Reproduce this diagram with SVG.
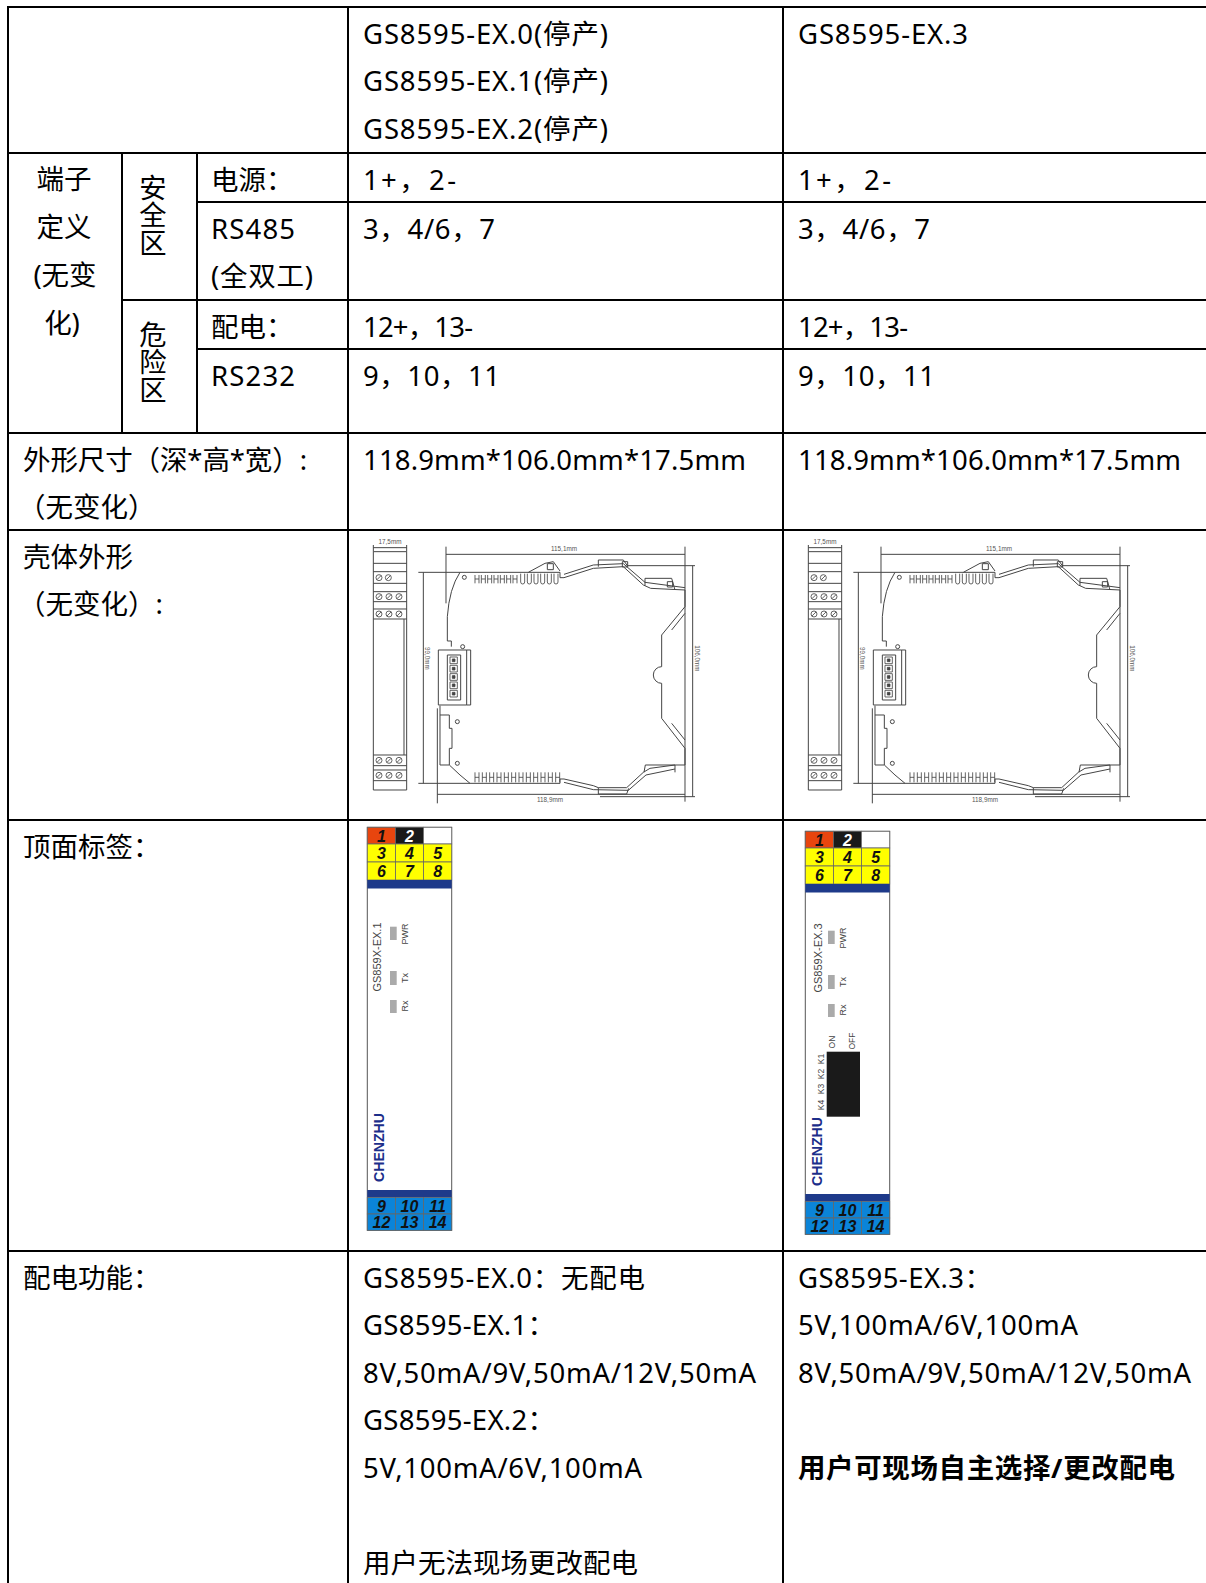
<svg xmlns="http://www.w3.org/2000/svg" xmlns:xlink="http://www.w3.org/1999/xlink" width="1206" height="1583" viewBox="0 0 1206 1583">
<style>
.t{font-family:"Noto Sans","Noto Sans CJK SC",sans-serif;font-size:27.5px;fill:#000}
.v{font-family:"Noto Sans CJK SC",sans-serif;font-size:27.3px;fill:#000;writing-mode:vertical-rl}
.b{font-weight:700}
.m{text-anchor:middle}
.grid{stroke:#000;stroke-width:2;fill:none}
.dim{font-family:"Liberation Sans",Arial,sans-serif;font-size:19px;fill:#555;stroke:none}
.num{font-family:"Liberation Sans",Arial,sans-serif;font-size:16px;font-weight:700;font-style:italic;text-anchor:middle;fill:#111}
.sm{font-family:"Liberation Sans",Arial,sans-serif;fill:#444}
.cell{stroke:#666;stroke-width:0.8}
</style>
<defs>
<g id="housing" fill="none" stroke="#444" stroke-width="3" stroke-linejoin="round">
  <text class="dim" x="90" y="27" text-anchor="middle">17,5mm</text>
  <path d="M40 38H140 M40 30V50 M140 30V50"/>
  <rect x="40" y="50" width="100" height="715"/>
  <path d="M40 85H140 M40 110H140 M40 145H140 M40 170H140 M40 200H140 M40 222H140 M40 252H140 M40 660H140 M40 692H140 M40 705H140 M40 737H140 M132 252V660"/>
  <g stroke-width="2.5">
    <circle cx="57" cy="128" r="9"/><circle cx="85" cy="128" r="9"/>
    <circle cx="57" cy="185" r="9"/><circle cx="87" cy="185" r="9"/><circle cx="117" cy="185" r="9"/>
    <circle cx="57" cy="237" r="9"/><circle cx="87" cy="237" r="9"/><circle cx="117" cy="237" r="9"/>
    <circle cx="57" cy="676" r="9"/><circle cx="87" cy="676" r="9"/><circle cx="117" cy="676" r="9"/>
    <circle cx="57" cy="721" r="9"/><circle cx="87" cy="721" r="9"/><circle cx="117" cy="721" r="9"/>
    <path d="M51 134L63 122 M79 134L91 122 M51 191L63 179 M81 191L93 179 M111 191L123 179 M51 243L63 231 M81 243L93 231 M111 243L123 231 M51 682L63 670 M81 682L93 670 M111 682L123 670 M51 727L63 715 M81 727L93 715 M111 727L123 715"/>
  </g>
  <text class="dim" x="612" y="48" text-anchor="middle">115,1mm</text>
  <path d="M258 58H975 M258 35V205 M975 35V800"/>
  <path d="M190 112V745 M175 112H300 M175 745H330"/>
  <text class="dim" transform="translate(196 370) rotate(90)" text-anchor="middle">99,0mm</text>
  <path d="M998 92V785 M800 92H1005 M720 785H1005"/>
  <text class="dim" transform="translate(1005 370) rotate(90)" text-anchor="middle">106,0mm</text>
  <path d="M232 520V805 M232 778H975"/>
  <text class="dim" x="570" y="802" text-anchor="middle">118,9mm</text>
  <path d="M300 112 Q268 160 262 245 V318 H274 V335"/>
  <path d="M300 112 H600 V128 H612 L700 100 L790 95 L850 150 L872 160 L975 165 V215 L905 300 V395 A25 25 0 0 0 905 445 V550 L975 640 V690 L945 690 L870 700 L850 712 L800 758 L715 758 L700 752 L612 732 H600 V745 H330"/>
  <path d="M612 118 L700 90 L790 86 L855 142 L975 158"/>
  <path d="M975 235 L935 285 M935 565 L975 615"/>
  <path d="M612 742 L700 764 L805 766 L858 720 L945 702"/>
  <path d="M505 112 L555 85 L580 80 L600 108"/>
  <rect x="562" y="86" width="18" height="18"/>
  <path d="M715 95 V75 H790 L802 92"/>
  <rect x="787" y="80" width="16" height="16"/>
  <path d="M855 152 V130 H935 L945 165"/>
  <rect x="922" y="140" width="16" height="16"/>
  <path d="M852 712 L856 690 H945 V712"/>
  <path d="M715 758 V777 H800 L806 760"/>
  <rect x="235" y="345" width="85" height="165"/>
  <path d="M320 345 H332 V510 H320"/>
  <rect x="262" y="360" width="40" height="135"/>
  <g stroke-width="2.5">
    <rect x="270" y="366" width="22" height="20"/><rect x="270" y="391" width="22" height="20"/><rect x="270" y="416" width="22" height="20"/><rect x="270" y="441" width="22" height="20"/><rect x="270" y="466" width="22" height="20"/>
    <rect x="277" y="372" width="8" height="8" fill="#444"/><rect x="277" y="397" width="8" height="8" fill="#444"/><rect x="277" y="422" width="8" height="8" fill="#444"/><rect x="277" y="447" width="8" height="8" fill="#444"/><rect x="277" y="472" width="8" height="8" fill="#444"/>
  </g>
  <path d="M240 512 V690 M240 540 H268 V580 H276 V640 H268 V690 L300 720 L330 745 M240 690 H268"/>
  <circle cx="313" cy="127" r="6"/><circle cx="308" cy="335" r="6"/><circle cx="292" cy="560" r="6"/><circle cx="292" cy="685" r="6"/>
  <path stroke-width="2.5" d="M345 120V145M357 120V145M345 132H357 M364 120V145M376 120V145M364 132H376 M383 120V145M395 120V145M383 132H395 M402 120V145M414 120V145M402 132H414 M421 120V145M433 120V145M421 132H433 M440 120V145M452 120V145M440 132H452 M459 120V145M471 120V145M459 132H471"/>
  <path stroke-width="2.5" d="M482 116V141Q482 147 488 147Q494 147 494 141V116 M502 116V141Q502 147 508 147Q514 147 514 141V116 M522 116V141Q522 147 528 147Q534 147 534 141V116 M542 116V141Q542 147 548 147Q554 147 554 141V116 M562 116V141Q562 147 568 147Q574 147 574 141V116 M582 116V141Q582 147 588 147Q594 147 594 141V116"/>
  <path stroke-width="2.5" d="M345 712V742M357 712V742M345 727H357 M367 712V742M379 712V742M367 727H379 M389 712V742M401 712V742M389 727H401 M411 712V742M423 712V742M411 727H423 M433 712V742M445 712V742M433 727H445 M455 712V742M467 712V742M455 727H467 M477 712V742M489 712V742M477 727H489 M499 712V742M511 712V742M499 727H511 M521 712V742M533 712V742M521 727H533 M543 712V742M555 712V742M543 727H555 M565 712V742M577 712V742M565 727H577 M587 712V742M599 712V742M587 727H599"/>
</g>
<g id="lbl">
  <rect x="367.3" y="827.3" width="84.4" height="403" fill="#fff" stroke="#555" stroke-width="1"/>
  <rect class="cell" x="367.3" y="827.3" width="28.2" height="16.7" fill="#e8450e"/>
  <rect class="cell" x="395.5" y="827.3" width="28" height="16.7" fill="#1a1a1a"/>
  <rect class="cell" x="423.5" y="827.3" width="28.2" height="16.7" fill="#fff"/>
  <rect class="cell" x="367.3" y="844" width="28.2" height="18" fill="#ffff00"/>
  <rect class="cell" x="395.5" y="844" width="28" height="18" fill="#ffff00"/>
  <rect class="cell" x="423.5" y="844" width="28.2" height="18" fill="#ffff00"/>
  <rect class="cell" x="367.3" y="862" width="28.2" height="18" fill="#ffff00"/>
  <rect class="cell" x="395.5" y="862" width="28" height="18" fill="#ffff00"/>
  <rect class="cell" x="423.5" y="862" width="28.2" height="18" fill="#ffff00"/>
  <rect x="367.3" y="880" width="84.4" height="8.5" fill="#1e3a8a"/>
  <rect x="367.3" y="1190" width="84.4" height="7.5" fill="#1e3a8a"/>
  <rect class="cell" x="367.3" y="1197.5" width="28.2" height="16.5" fill="#0b84d8"/>
  <rect class="cell" x="395.5" y="1197.5" width="28" height="16.5" fill="#0b84d8"/>
  <rect class="cell" x="423.5" y="1197.5" width="28.2" height="16.5" fill="#0b84d8"/>
  <rect class="cell" x="367.3" y="1214" width="28.2" height="16.3" fill="#0b84d8"/>
  <rect class="cell" x="395.5" y="1214" width="28" height="16.3" fill="#0b84d8"/>
  <rect class="cell" x="423.5" y="1214" width="28.2" height="16.3" fill="#0b84d8"/>
  <text class="num" x="381.4" y="841.5">1</text>
  <text class="num" x="409.5" y="841.5" style="fill:#fff">2</text>
  <text class="num" x="381.4" y="859">3</text><text class="num" x="409.5" y="859">4</text><text class="num" x="437.6" y="859">5</text>
  <text class="num" x="381.4" y="877">6</text><text class="num" x="409.5" y="877">7</text><text class="num" x="437.6" y="877">8</text>
  <text class="num" x="381.4" y="1211.5">9</text><text class="num" x="409.5" y="1211.5">10</text><text class="num" x="437.6" y="1211.5">11</text>
  <text class="num" x="381.4" y="1228">12</text><text class="num" x="409.5" y="1228">13</text><text class="num" x="437.6" y="1228">14</text>
  <rect x="390" y="926.7" width="6.7" height="13.3" fill="#aaa"/>
  <rect x="390" y="971" width="6.7" height="14" fill="#aaa"/>
  <rect x="390" y="1000" width="6.7" height="13" fill="#aaa"/>
  <text class="sm" font-size="9" text-anchor="middle" transform="translate(407.5 934) rotate(-90)">PWR</text>
  <text class="sm" font-size="9" text-anchor="middle" transform="translate(407.5 978) rotate(-90)">Tx</text>
  <text class="sm" font-size="9" text-anchor="middle" transform="translate(407.5 1006) rotate(-90)">Rx</text>
  <text font-family="'Liberation Sans',Arial,sans-serif" font-weight="700" font-size="14" fill="#1c2e8a" text-anchor="middle" textLength="69" lengthAdjust="spacingAndGlyphs" transform="translate(384 1147.5) rotate(-90)">CHENZHU</text>
</g>
</defs>

<g id="table-grid" class="grid">
  <path d="M7 7H1206 M7 153H1206 M197 202H1206 M122 300H1206 M197 349H1206 M7 433H1206 M7 530H1206 M7 820H1206 M7 1251H1206"/>
  <path d="M8 6V1583 M122 153V433 M197 153V433 M348 6V1583 M783 6V1583"/>
</g>

<g id="row-header">
  <text class="t" x="363" y="43.5" textLength="245" lengthAdjust="spacing">GS8595-EX.0(停产)</text>
  <text class="t" x="363" y="91" textLength="245" lengthAdjust="spacing">GS8595-EX.1(停产)</text>
  <text class="t" x="363" y="138.5" textLength="245" lengthAdjust="spacing">GS8595-EX.2(停产)</text>
  <text class="t" x="798" y="43.5" textLength="170" lengthAdjust="spacing">GS8595-EX.3</text>
</g>

<g id="row-terminals">
  <text class="t m" x="64" y="189">端子</text>
  <text class="t m" x="64" y="237">定义</text>
  <text class="t m" x="65" y="285">(无变</text>
  <text class="t m" x="62" y="333">化)</text>
  <text class="v" x="153" y="174">安全区</text>
  <text class="v" x="153" y="321">危险区</text>
  <text class="t" x="211" y="189.5">电源：</text>
  <text class="t" x="211" y="238.5" textLength="84" lengthAdjust="spacing">RS485</text>
  <text class="t" x="211" y="286" textLength="102" lengthAdjust="spacing">(全双工)</text>
  <text class="t" x="211" y="337">配电：</text>
  <text class="t" x="211" y="385.5" textLength="84" lengthAdjust="spacing">RS232</text>
  <text class="t" x="363" y="189.5" textLength="93" lengthAdjust="spacing">1+，2-</text>
  <text class="t" x="798" y="189.5" textLength="93" lengthAdjust="spacing">1+，2-</text>
  <text class="t" x="363" y="238.5" textLength="132" lengthAdjust="spacing">3，4/6，7</text>
  <text class="t" x="798" y="238.5" textLength="132" lengthAdjust="spacing">3，4/6，7</text>
  <text class="t" x="363" y="337" textLength="110" lengthAdjust="spacing">12+，13-</text>
  <text class="t" x="798" y="337" textLength="110" lengthAdjust="spacing">12+，13-</text>
  <text class="t" x="363" y="385.5" textLength="137" lengthAdjust="spacing">9，10，11</text>
  <text class="t" x="798" y="385.5" textLength="137" lengthAdjust="spacing">9，10，11</text>
</g>

<g id="row-size">
  <text class="t" x="23" y="469.5" textLength="284" lengthAdjust="spacing">外形尺寸（深*高*宽）:</text>
  <text class="t" x="18" y="517">（无变化）</text>
  <text class="t" x="363" y="469.5" textLength="383" lengthAdjust="spacing">118.9mm*106.0mm*17.5mm</text>
  <text class="t" x="798" y="469.5" textLength="383" lengthAdjust="spacing">118.9mm*106.0mm*17.5mm</text>
</g>

<g id="row-housing">
  <text class="t" x="23" y="566.5">壳体外形</text>
  <text class="t" x="18" y="614">（无变化）:</text>
  <use xlink:href="#housing" transform="translate(360 535) scale(0.33333)"/>
  <use xlink:href="#housing" transform="translate(795 535) scale(0.33333)"/>
</g>

<g id="row-label">
  <text class="t" x="23" y="856.5">顶面标签：</text>
  <use xlink:href="#lbl"/>
  <text class="sm" font-size="11" text-anchor="middle" transform="translate(381 957) rotate(-90)">GS859X-EX.1</text>
  <use xlink:href="#lbl" transform="translate(438 4)"/>
  <text class="sm" font-size="11" text-anchor="middle" transform="translate(822 958) rotate(-90)">GS859X-EX.3</text>
  <rect x="826.7" y="1051.7" width="33.3" height="65" fill="#1a1a1a"/>
  <text class="sm" font-size="8.5" text-anchor="middle" transform="translate(835 1042) rotate(-90)">ON</text>
  <text class="sm" font-size="8.5" text-anchor="middle" transform="translate(855 1041) rotate(-90)">OFF</text>
  <text class="sm" font-size="8.5" text-anchor="middle" transform="translate(823.5 1059) rotate(-90)">K1</text>
  <text class="sm" font-size="8.5" text-anchor="middle" transform="translate(823.5 1074) rotate(-90)">K2</text>
  <text class="sm" font-size="8.5" text-anchor="middle" transform="translate(823.5 1089) rotate(-90)">K3</text>
  <text class="sm" font-size="8.5" text-anchor="middle" transform="translate(823.5 1105) rotate(-90)">K4</text>
</g>

<g id="row-power">
  <text class="t" x="23" y="1287.5">配电功能：</text>
  <text class="t" x="363" y="1287.5" textLength="282" lengthAdjust="spacing">GS8595-EX.0：无配电</text>
  <text class="t" x="363" y="1335" textLength="192" lengthAdjust="spacing">GS8595-EX.1：</text>
  <text class="t" x="363" y="1382.5" textLength="393" lengthAdjust="spacing">8V,50mA/9V,50mA/12V,50mA</text>
  <text class="t" x="363" y="1430" textLength="192" lengthAdjust="spacing">GS8595-EX.2：</text>
  <text class="t" x="363" y="1477.5" textLength="279" lengthAdjust="spacing">5V,100mA/6V,100mA</text>
  <text class="t" x="363" y="1573">用户无法现场更改配电</text>
  <text class="t" x="798" y="1287.5" textLength="194" lengthAdjust="spacing">GS8595-EX.3：</text>
  <text class="t" x="798" y="1335" textLength="280" lengthAdjust="spacing">5V,100mA/6V,100mA</text>
  <text class="t" x="798" y="1382.5" textLength="393" lengthAdjust="spacing">8V,50mA/9V,50mA/12V,50mA</text>
  <text class="t b" x="798" y="1477.5" textLength="377" lengthAdjust="spacing">用户可现场自主选择/更改配电</text>
</g>
</svg>
